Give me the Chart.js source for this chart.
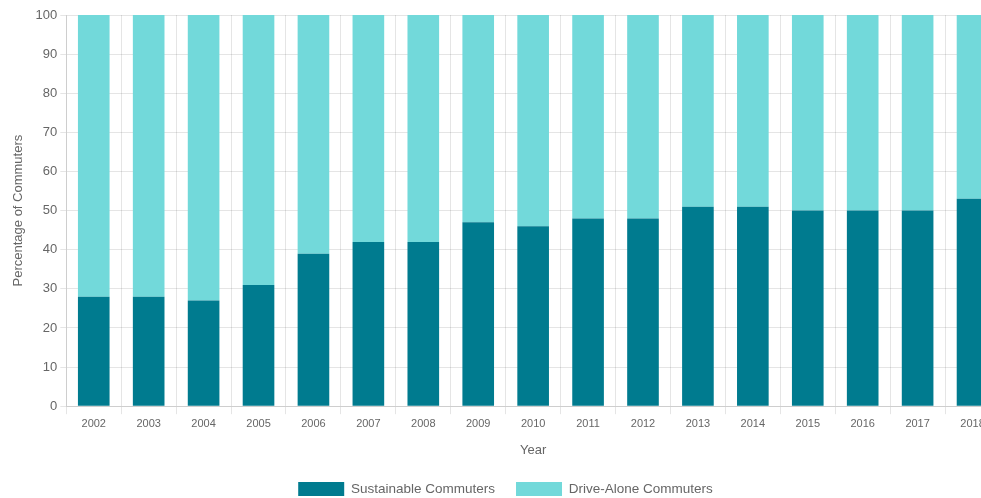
<!DOCTYPE html>
<html>
<head>
<meta charset="utf-8">
<script src="https://cdn.jsdelivr.net/npm/chart.js@4"></script>
<style>
  html, body { margin: 0; padding: 0; background: #fff; overflow: hidden; }
  #wrap { width: 1000px; height: 506px; }
</style>
</head>
<body>
<div id="wrap"><canvas id="commuteChart"></canvas></div>
<script>
// Chart data
const years = ["2002", "2003", "2004", "2005", "2006", "2007", "2008", "2009", "2010",
  "2011", "2012", "2013", "2014", "2015", "2016", "2017", "2018"];
const sustainable = [28, 28, 27, 31, 39, 42, 42, 47, 46, 48, 48, 51, 51, 50, 50, 50, 53];
const driveAlone = [72, 72, 73, 69, 61, 58, 58, 53, 54, 52, 52, 49, 49, 50, 50, 50, 47];

Chart.defaults.font.family = "'Liberation Sans', Arial, sans-serif";
Chart.defaults.color = "#666";

const ctx = document.getElementById("commuteChart").getContext("2d");
new Chart(ctx, {
  type: "bar",
  data: {
    labels: years,
    datasets: [
      {
        label: "Sustainable Commuters",
        data: sustainable,
        backgroundColor: "#007b8f",
        categoryPercentage: 0.8,
        barPercentage: 0.72,
      },
      {
        label: "Drive-Alone Commuters",
        data: driveAlone,
        backgroundColor: "#72d9da",
        categoryPercentage: 0.8,
        barPercentage: 0.72,
      },
    ],
  },
  options: {
    responsive: true,
    maintainAspectRatio: false,
    animation: false,
    layout: { padding: { top: 15, right: 0, left: 11, bottom: 0 } },
    plugins: {
      legend: {
        position: "bottom",
        labels: { boxWidth: 46, boxHeight: 14, padding: 21, font: { size: 13.5 }, color: "#666" },
      },
      tooltip: { enabled: false },
    },
    scales: {
      x: {
        stacked: true,
        grid: { color: "rgba(0,0,0,0.1)", tickLength: 8 },
        ticks: { font: { size: 11 }, color: "#666", maxRotation: 0 },
        title: { display: true, text: "Year", font: { size: 13 }, color: "#666", padding: { top: 9, bottom: 3 } },
      },
      y: {
        stacked: true,
        min: 0,
        max: 100,
        grid: { color: "rgba(0,0,0,0.1)", tickLength: 6 },
        ticks: { stepSize: 10, font: { size: 13 }, color: "#666" },
        title: { display: true, text: "Percentage of Commuters", font: { size: 13 }, color: "#666", padding: { top: 0, bottom: 6 } },
      },
    },
  },
});
</script>
</body>
</html>
